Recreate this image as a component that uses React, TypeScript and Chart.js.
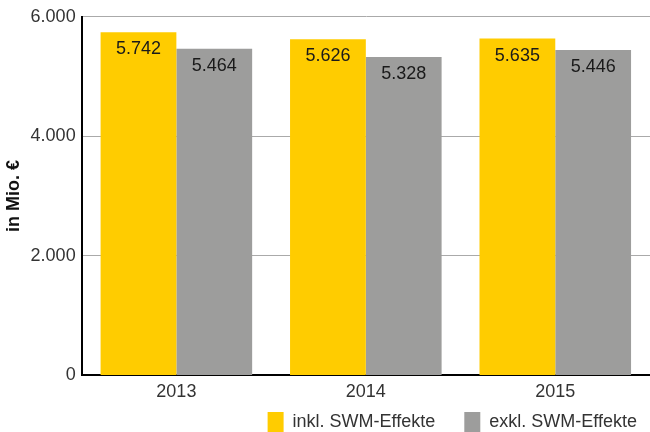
import React, { useEffect, useRef } from "react";
import { Chart, registerables } from "chart.js";

Chart.register(...registerables);

const categories = ["2013", "2014", "2015"];
const inklValues = [5742, 5626, 5635];
const exklValues = [5464, 5328, 5446];
const seriesNames = ["inkl. SWM-Effekte", "exkl. SWM-Effekte"];
const yTicks = [0, 2000, 4000, 6000];

const FONT = "'Liberation Sans', Arial, sans-serif";
const fmt = (v: number) => v.toLocaleString("de-DE");

const labelPlugin = {
  id: "barLabels",
  afterDatasetsDraw(chart: any) {
    const ctx = chart.ctx;
    ctx.save();
    ctx.font = "18px " + FONT;
    ctx.fillStyle = "#1a1a1a";
    ctx.textAlign = "center";
    ctx.textBaseline = "middle";
    chart.data.datasets.forEach((ds: any, i: number) => {
      const meta = chart.getDatasetMeta(i);
      meta.data.forEach((bar: any, j: number) => {
        ctx.fillText(fmt(ds.data[j]), bar.x, bar.y + 17);
      });
    });
    ctx.restore();
  },
};

const legendFitPlugin = {
  id: "legendFit",
  afterInit(chart: any) {
    const lg = chart.legend;
    if (lg && !lg.__patched) {
      const origFit = lg.fit;
      lg.fit = function () {
        origFit.call(this);
        this.height = 23;
      };
      const origDraw = lg.draw;
      lg.draw = function () {
        const t = this.top;
        const r = this.right;
        const pad = this.options.labels.padding;
        this.top = this.chart.height - 20 - pad;
        this.right = r + 16;
        origDraw.call(this);
        this.top = t;
        this.right = r;
      };
      lg.__patched = true;
    }
  },
};

export default function App() {
  const ref = useRef<HTMLCanvasElement>(null);
  useEffect(() => {
    const chart = new Chart(ref.current!, {
      type: "bar",
      data: {
        labels: categories,
        datasets: [
          { label: seriesNames[0], data: inklValues, backgroundColor: "#FFCC00", barPercentage: 1, categoryPercentage: 0.8 },
          { label: seriesNames[1], data: exklValues, backgroundColor: "#9D9D9C", barPercentage: 1, categoryPercentage: 0.8 },
        ],
      },
      options: {
        animation: false,
        responsive: true,
        maintainAspectRatio: false,
        layout: { padding: { top: 0, right: 0, left: 0, bottom: 0 } },
        plugins: {
          legend: {
            position: "bottom",
            align: "end",
            labels: {
              boxWidth: 16,
              boxHeight: 20,
              padding: 29,
              color: "#333",
              font: { size: 18, family: FONT },
            },
          },
          tooltip: { enabled: false },
        },
        scales: {
          x: {
            grid: { display: false, drawTicks: false },
            border: { color: "#000", width: 2 },
            ticks: { color: "#333", padding: 6, font: { size: 18, family: FONT } },
          },
          y: {
            min: 0,
            max: 6000,
            afterBuildTicks: (axis: any) => {
              axis.ticks = yTicks.map((v) => ({ value: v }));
            },
            grid: { color: "#aaaaaa", drawTicks: false, lineWidth: 1 },
            border: { color: "#000", width: 2 },
            ticks: {
              color: "#333",
              padding: 6,
              font: { size: 18, family: FONT },
              callback: (v: any) => fmt(Number(v)),
            },
            title: {
              display: true,
              text: "in Mio. €",
              color: "#111",
              font: { size: 18, weight: "bold", family: FONT },
              padding: { top: 3, bottom: 0 },
            },
          },
        },
      },
      plugins: [labelPlugin, legendFitPlugin],
    });
    return () => chart.destroy();
  }, []);
  return (
    <div style={{ position: "fixed", left: 0, top: 0, width: 650, height: 432 }}>
      <canvas ref={ref} />
    </div>
  );
}
